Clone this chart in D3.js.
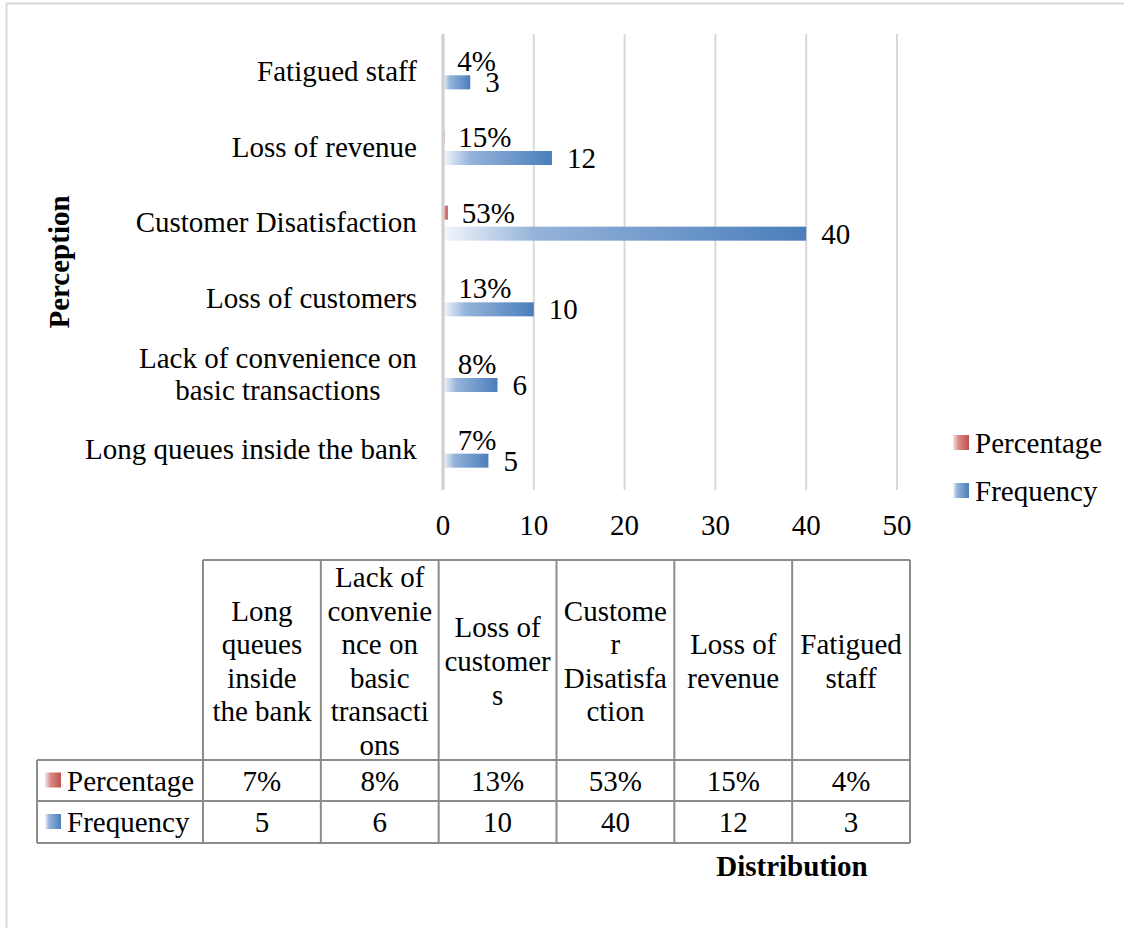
<!DOCTYPE html>
<html>
<head>
<meta charset="utf-8">
<script src="https://cdn.jsdelivr.net/npm/d3@7"></script>
<style>
  html, body { margin: 0; padding: 0; background: #fff; }
  svg { display: block; font-family: "Liberation Serif", "Times New Roman", serif; }
</style>
</head>
<body>
<svg id="chart" width="1124" height="928"></svg>
<script>
// Perception categories, listed from the bottom of the chart to the top
const categories = [
  "Long queues inside the bank",
  "Lack of convenience on basic transactions",
  "Loss of customers",
  "Customer Disatisfaction",
  "Loss of revenue",
  "Fatigued staff"
];
// How each category label is broken on the axis
const axisLabelLines = [
  ["Long queues inside the bank"],
  ["Lack of convenience on", "basic transactions"],
  ["Loss of customers"],
  ["Customer Disatisfaction"],
  ["Loss of revenue"],
  ["Fatigued staff"]
];
// How each category label is broken in the data table header
const tableHeaderLines = [
  ["Long", "queues", "inside", "the bank"],
  ["Lack of", "convenie", "nce on", "basic", "transacti", "ons"],
  ["Loss of", "customer", "s"],
  ["Custome", "r", "Disatisfa", "ction"],
  ["Loss of", "revenue"],
  ["Fatigued", "staff"]
];
const percentage = [0.07, 0.08, 0.13, 0.53, 0.15, 0.04];
const frequency = [5, 6, 10, 40, 12, 3];
const xTicks = [0, 10, 20, 30, 40, 50];
const seriesNames = ["Percentage", "Frequency"];

const svg = d3.select("#chart");
const FS = 29;

// outer frame
svg.append("rect")
  .attr("x", 6.5).attr("y", 3.5).attr("width", 1200).attr("height", 1000)
  .attr("fill", "none").attr("stroke", "#d9d9d9").attr("stroke-width", 2);

// gradients
const defs = svg.append("defs");
function grad(id, stops) {
  const g = defs.append("linearGradient").attr("id", id)
    .attr("x1", "0%").attr("x2", "100%").attr("y1", "0%").attr("y2", "0%");
  stops.forEach(s => g.append("stop").attr("offset", s[0]).attr("stop-color", s[1]));
}
grad("gBlue", [["0%", "#f4f7fc"], ["25%", "#95b3da"], ["100%", "#4a7ebb"]]);
grad("gRed", [["0%", "#f7e3e3"], ["35%", "#d98a88"], ["100%", "#c0504d"]]);

const x = d3.scaleLinear().domain([0, 50]).range([443, 897]);
const y = d3.scaleBand().domain(categories.slice().reverse()).range([34, 488]);
const rows = categories.map((c, i) => ({ c, i, pct: percentage[i], freq: frequency[i] }));

// vertical gridlines
svg.append("g").selectAll("line").data(xTicks.filter(t => t > 0)).join("line")
  .attr("x1", d => x(d)).attr("x2", d => x(d))
  .attr("y1", 34).attr("y2", 490)
  .attr("stroke", "#d9d9d9").attr("stroke-width", 2);

// tick labels
svg.append("g").selectAll("text").data(xTicks).join("text")
  .attr("x", d => x(d)).attr("y", 535)
  .attr("text-anchor", "middle").attr("font-size", FS).attr("fill", "#000")
  .text(d => d);

const cy = d => y(d) + y.bandwidth() / 2;

// percentage bars
svg.append("g").selectAll("rect").data(rows).join("rect")
  .attr("x", x(0)).attr("y", d => cy(d.c) - 17.5)
  .attr("width", d => Math.max(0, x(d.pct) - x(0)))
  .attr("height", 14).attr("fill", "url(#gRed)");

// frequency bars
svg.append("g").selectAll("rect").data(rows).join("rect")
  .attr("x", x(0)).attr("y", d => cy(d.c) + 3.5)
  .attr("width", d => x(d.freq) - x(0))
  .attr("height", 14).attr("fill", "url(#gBlue)");

// zero line
svg.append("line")
  .attr("x1", x(0)).attr("x2", x(0)).attr("y1", 34).attr("y2", 490)
  .attr("stroke", "#d0d0d0").attr("stroke-width", 3.2);

// data labels
svg.append("g").selectAll("text").data(rows).join("text")
  .attr("x", d => x(d.pct) + 14).attr("y", d => cy(d.c) - 10.5 + 10)
  .attr("font-size", FS).text(d => Math.round(d.pct * 100) + "%");
svg.append("g").selectAll("text").data(rows).join("text")
  .attr("x", d => x(d.freq) + 15).attr("y", d => cy(d.c) + 10.5 + 10)
  .attr("font-size", FS).text(d => d.freq);

// category labels
const catG = svg.append("g");
rows.forEach(d => {
  const lines = axisLabelLines[d.i];
  const t = catG.append("text").attr("font-size", FS).attr("text-anchor", "middle");
  lines.forEach((ln, k) => {
    t.append("tspan").attr("x", 0).attr("y", cy(d.c) + 9 + (k - (lines.length - 1) / 2) * 32).text(ln);
  });
  const w = t.node().getBBox().width;
  t.attr("transform", `translate(${417 - w / 2},0)`);
});

// axis title
svg.append("text")
  .attr("transform", "translate(69,262) rotate(-90)")
  .attr("text-anchor", "middle").attr("font-size", FS).attr("font-weight", "bold")
  .text("Perception");

// legend
const legY = [442.5, 490.5];
const legG = svg.append("g");
seriesNames.forEach((s, k) => {
  legG.append("rect").attr("x", 953).attr("y", legY[k] - 7.5).attr("width", 16).attr("height", 15)
    .attr("fill", k === 0 ? "url(#gRed)" : "url(#gBlue)");
  legG.append("text").attr("x", 975).attr("y", legY[k] + 10).attr("font-size", FS).text(s);
});

// data table
const col = d3.scaleBand().domain(categories).range([203, 910]);
const tTop = 560, tHead = 760, tRow1 = 801, tRow2 = 843, tLeft = 37;
const tg = svg.append("g");
const gridStroke = "#8c8c8c";
function hline(x1, x2, yy) {
  tg.append("line").attr("x1", x1).attr("x2", x2).attr("y1", yy).attr("y2", yy)
    .attr("stroke", gridStroke).attr("stroke-width", 2);
}
function vline(xx, y1, y2) {
  tg.append("line").attr("x1", xx).attr("x2", xx).attr("y1", y1).attr("y2", y2)
    .attr("stroke", gridStroke).attr("stroke-width", 2);
}
hline(203, 910, tTop);
hline(tLeft, 910, tHead);
hline(tLeft, 910, tRow1);
hline(tLeft, 910, tRow2);
vline(tLeft, tHead, tRow2);
categories.forEach(c => vline(col(c), tTop, tRow2));
vline(910, tTop, tRow2);

const headMid = (tTop + tHead) / 2 + 1;
categories.forEach((c, i) => {
  const lines = tableHeaderLines[i];
  const t = tg.append("text").attr("font-size", FS).attr("text-anchor", "middle");
  lines.forEach((ln, k) => {
    t.append("tspan").attr("x", col(c) + col.bandwidth() / 2)
      .attr("y", headMid + 10 + (k - (lines.length - 1) / 2) * 33.6).text(ln);
  });
  tg.append("text").attr("x", col(c) + col.bandwidth() / 2).attr("y", (tHead + tRow1) / 2 + 10)
    .attr("font-size", FS).attr("text-anchor", "middle")
    .text(Math.round(percentage[i] * 100) + "%");
  tg.append("text").attr("x", col(c) + col.bandwidth() / 2).attr("y", (tRow1 + tRow2) / 2 + 10)
    .attr("font-size", FS).attr("text-anchor", "middle")
    .text(frequency[i]);
});
[[tHead, tRow1], [tRow1, tRow2]].forEach((r, k) => {
  const m = (r[0] + r[1]) / 2;
  tg.append("rect").attr("x", 45).attr("y", m - 8).attr("width", 16).attr("height", 15)
    .attr("fill", k === 0 ? "url(#gRed)" : "url(#gBlue)");
  tg.append("text").attr("x", 67).attr("y", m + 10).attr("font-size", FS).text(seriesNames[k]);
});

// table axis title
svg.append("text")
  .attr("x", 792).attr("y", 876)
  .attr("text-anchor", "middle").attr("font-size", FS).attr("font-weight", "bold")
  .text("Distribution");
</script>
</body>
</html>
